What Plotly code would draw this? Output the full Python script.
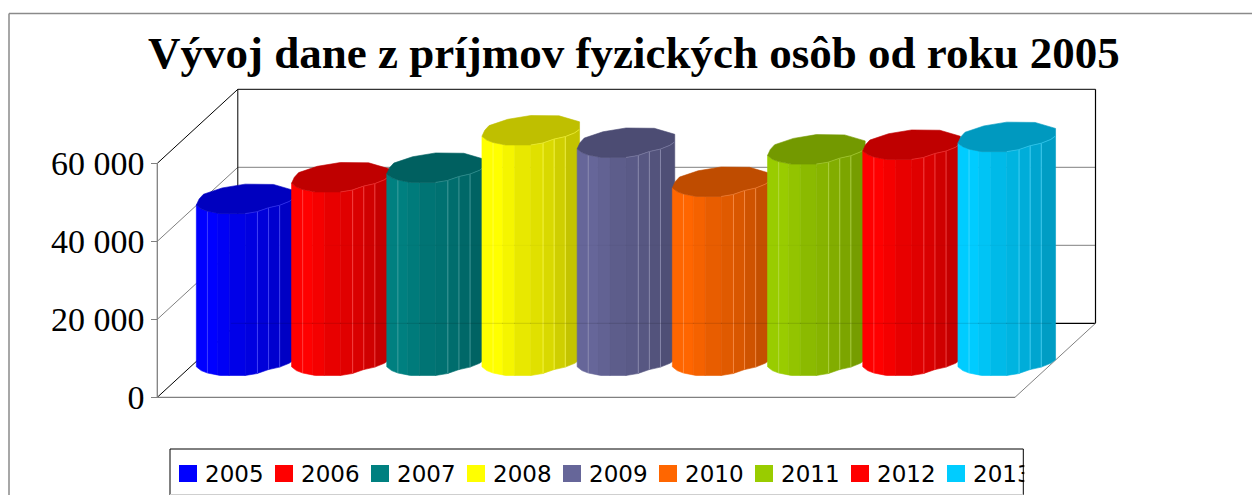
import plotly.graph_objects as go

# ---- data ----
YEARS = ["2005", "2006", "2007", "2008", "2009", "2010", "2011", "2012", "2013"]
VALUES = [41500, 47050, 49500, 59100, 55900, 45900, 54200, 55400, 57400]
COLORS = ["#0000FF", "#FF0000", "#008080", "#FFFF00", "#666699",
          "#FF6600", "#99CC00", "#FF0000", "#00CCFF"]
Y_TICKS = [0, 20000, 40000, 60000]
Y_LABELS = ["0", "20 000", "40 000", "60 000"]
TITLE = "Vývoj dane z príjmov fyzických osôb od roku 2005"

# ---- chart geometry ----
W, H = 1252, 495
X0_PX, Y0_PX = 157.3, 397.3       # front-left floor corner
PX_PER_CAT = 95.2
PX_PER_UNIT = 78.0 / 20000
DEPTH_PX = (80.5, 74.0)           # oblique depth vector of the box
N = len(YEARS)
YMAX = 60000
BOX_W_CATS = 857.7 / PX_PER_CAT

DX = DEPTH_PX[0] / PX_PER_CAT
DY = DEPTH_PX[1] / PX_PER_UNIT


def proj(cat, val, depth=0.0):
    return cat + depth * DX, val + depth * DY


def lighten(c, t):
    r, g, b = int(c[1:3], 16), int(c[3:5], 16), int(c[5:7], 16)
    return "rgb(%d,%d,%d)" % tuple(round(v + (255 - v) * t) for v in (r, g, b))


def shade(c, k):
    r, g, b = int(c[1:3], 16), int(c[3:5], 16), int(c[5:7], 16)
    return "rgb(%d,%d,%d)" % tuple(round(v * k) for v in (r, g, b))


fig = go.Figure()


def seg(p, q, color, width):
    fig.add_trace(go.Scatter(x=[p[0], q[0]], y=[p[1], q[1]], mode="lines",
                             line=dict(color=color, width=width),
                             hoverinfo="skip", showlegend=False))


# box walls
GREY = "#808080"
R = BOX_W_CATS
for v in (20000, 40000):
    seg(proj(0, v), proj(0, v, 1), GREY, 1)
    seg(proj(0, v, 1), proj(R, v, 1), GREY, 1)
seg(proj(0, 0), proj(0, 0, 1), "#000000", 1)
seg(proj(0, YMAX), proj(0, YMAX, 1), "#000000", 1)
seg(proj(0, 0, 1), proj(0, YMAX, 1), "#000000", 1)
seg(proj(0, YMAX, 1), proj(R, YMAX, 1), "#000000", 1)
seg(proj(R, YMAX, 1), proj(R, 0, 1), "#000000", 1.2)
seg(proj(0, 0, 1), proj(R, 0, 1), "#000000", 1.2)
seg(proj(0, 0), proj(R, 0), GREY, 1.3)
seg(proj(R, 0), proj(R, 0, 1), GREY, 1)
seg(proj(0, 0), proj(0, YMAX), GREY, 1.3)

# cylinder outline, as pixel offsets around the cylinder axis
LOWER = [(-48.8, 6.5), (-44, 10.3), (-37.7, 12.7), (-25, 15.2), (0, 15.2), (11.7, 13.3),
         (23.3, 9.3), (34.5, 6.8), (44, 3), (48.8, -0.5)]
UPPER = [(48.8, -8), (41, -10.5), (28.3, -14), (0, -14.3), (-23, -10.5), (-41.7, -4.2), (-46, 0.5)]
EDGES = [-48.8, -28, -16, 0, 12.3, 23.4, 34.5, 48.8]
SHADES = [1.0, 0.96, 0.91, 0.88, 0.85, 0.81, 0.77]
LINES = [-37.7, 12.3, 23.4, 34.5]
TOP_SHADE = 0.75


def arc_y(px):
    for (a, ya), (b, yb) in zip(LOWER, LOWER[1:]):
        if a <= px <= b:
            return ya + (yb - ya) * (px - a) / (b - a)
    return LOWER[-1][1]


def arc_between(a, b):
    xs = [a] + [p[0] for p in LOWER if a < p[0] < b] + [b]
    return [(x, arc_y(x)) for x in xs]


for i, (val, col) in enumerate(zip(VALUES, COLORS)):
    cat = i + 0.5
    cx, base = proj(cat, 0, 0.5)
    top = base + val

    def pt(dx, dy, level):
        return cx + dx / PX_PER_CAT, level - dy / PX_PER_UNIT

    for a, b, k in zip(EDGES, EDGES[1:], SHADES):
        arc = arc_between(a, b)
        poly = [pt(x, y, top) for x, y in arc] + [pt(x, y, base) for x, y in reversed(arc)]
        poly.append(poly[0])
        c = shade(col, k)
        fig.add_trace(go.Scatter(x=[p[0] for p in poly], y=[p[1] for p in poly],
                                 mode="lines", fill="toself", fillcolor=c,
                                 line=dict(color=c, width=0.6),
                                 hoverinfo="skip", showlegend=False))
    light = lighten(col, 0.35)
    for lx in LINES:
        y = arc_y(lx)
        seg(pt(lx, y, top), pt(lx, y, base), light, 0.7)
    # top cap
    cap = [pt(x, y, top) for x, y in LOWER] + [pt(x, y, top) for x, y in UPPER]
    cap.append(cap[0])
    c = shade(col, TOP_SHADE)
    fig.add_trace(go.Scatter(x=[p[0] for p in cap], y=[p[1] for p in cap],
                             mode="lines", fill="toself", fillcolor=c,
                             line=dict(color=c, width=0.6),
                             hoverinfo="skip", showlegend=False))
    # light rim on the right part of the lower cap edge
    rim = arc_between(0, 48.8)
    fig.add_trace(go.Scatter(x=[pt(x, y, top)[0] for x, y in rim],
                             y=[pt(x, y, top)[1] for x, y in rim],
                             mode="lines", line=dict(color=lighten(col, 0.25), width=0.6),
                             hoverinfo="skip", showlegend=False))

# faint show-through of the back wall's grid lines
first_x = proj(0.35, 0, 0.5)[0]
last_x = proj(N - 0.03, 0, 0.5)[0]
seg((first_x, proj(0, 0, 1)[1]), (last_x, proj(0, 0, 1)[1]), "rgba(0,0,0,0.13)", 1)
seg((first_x + 1, proj(0, 20000, 1)[1]), (last_x, proj(0, 20000, 1)[1]), "rgba(0,0,0,0.03)", 1)

# ---- legend drawn as a clipped box, like the original ----
LEG_L, LEG_R, LEG_T, LEG_B = 170, 1023.3, 449, 495
SW_X0, SW_PITCH, SW_W, SW_T, SW_B, TXT_OFF = 179, 96, 18, 465, 482, 25


def px_x(v):
    return v / W


def px_y(v):
    return 1 - v / H


shapes = [
    dict(type="line", xref="paper", yref="paper", x0=px_x(9), x1=px_x(9), y0=px_y(13.5), y1=0,
         line=dict(color="#8a8a8a", width=1.5)),
    dict(type="line", xref="paper", yref="paper", x0=px_x(9), x1=1, y0=px_y(13.5), y1=px_y(13.5),
         line=dict(color="#8a8a8a", width=1.5)),
    dict(type="rect", xref="paper", yref="paper", x0=px_x(LEG_L), x1=px_x(LEG_R),
         y0=px_y(LEG_B + 3), y1=px_y(LEG_T), line=dict(color="#000000", width=1), fillcolor="#ffffff"),
    dict(type="line", xref="paper", yref="paper", x0=px_x(LEG_L), x1=px_x(LEG_R),
         y0=px_y(494.5), y1=px_y(494.5), line=dict(color="#cfcfcf", width=1)),
]
annotations = []
for i, (yr, col) in enumerate(zip(YEARS, COLORS)):
    sx = SW_X0 + SW_PITCH * i
    shapes.append(dict(type="rect", xref="paper", yref="paper", x0=px_x(sx), x1=px_x(sx + SW_W),
                       y0=px_y(SW_B), y1=px_y(SW_T), line=dict(width=0), fillcolor=col))
    ann = dict(text=yr, xref="paper", yref="paper", x=px_x(sx + TXT_OFF), y=px_y(473.5),
               xanchor="left", yanchor="middle", align="left", showarrow=False, borderpad=0,
               font=dict(family="DejaVu Sans", size=23, color="#000000"))
    if sx + TXT_OFF + 58 > LEG_R:
        ann["width"] = LEG_R - (sx + TXT_OFF)
    annotations.append(ann)

annotations.append(dict(text="<b>" + TITLE + "</b>", xref="paper", yref="paper",
                        x=px_x(634), y=px_y(53), xanchor="center", yanchor="middle",
                        showarrow=False,
                        font=dict(family="Liberation Serif", size=45, color="#000000")))

fig.update_layout(
    width=W, height=H, margin=dict(l=0, r=0, t=0, b=0),
    paper_bgcolor="#ffffff", plot_bgcolor="#ffffff", showlegend=False,
    shapes=shapes, annotations=annotations,
    xaxis=dict(visible=False, fixedrange=True,
               range=[-X0_PX / PX_PER_CAT, (W - X0_PX) / PX_PER_CAT]),
    yaxis=dict(range=[(Y0_PX - H) / PX_PER_UNIT, Y0_PX / PX_PER_UNIT], fixedrange=True,
               anchor="free", position=X0_PX / W, side="left",
               tickmode="array", tickvals=Y_TICKS, ticktext=Y_LABELS,
               ticks="outside", ticklen=6, tickwidth=1.3, tickcolor=GREY,
               showgrid=False, zeroline=False, showline=False,
               tickfont=dict(family="Liberation Serif", size=34, color="#000000")),
)

fig.write_html("out.html", config={"displayModeBar": False},
               post_script="document.body.style.margin='0';document.documentElement.style.overflow='hidden';")
